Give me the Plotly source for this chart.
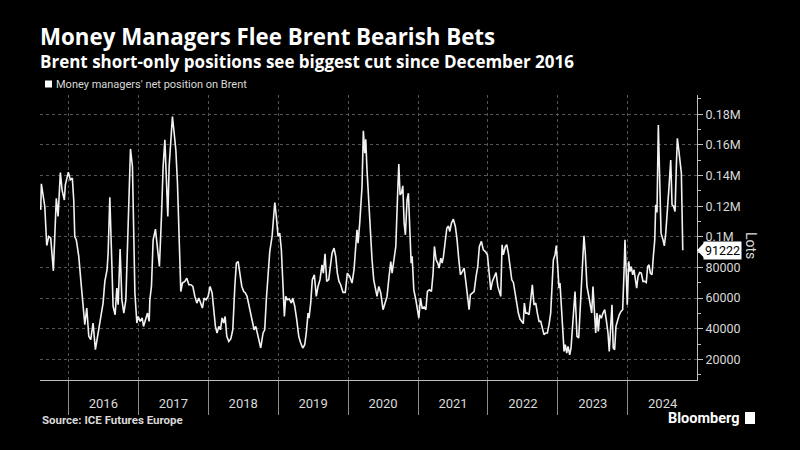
import datetime as dt
import plotly.graph_objects as go

# ---------------- data ----------------
# time as decimal years, value in lots
time_dec = [
    2015.605, 2015.614, 2015.663, 2015.691, 2015.720, 2015.748, 2015.786, 2015.828, 2015.853, 2015.886,
    2015.910, 2015.943, 2015.957, 2016.000, 2016.029, 2016.057, 2016.077, 2016.092, 2016.114, 2016.149,
    2016.186, 2016.235, 2016.263, 2016.292, 2016.320, 2016.353, 2016.386, 2016.415, 2016.453, 2016.496,
    2016.521, 2016.553, 2016.568, 2016.592, 2016.615, 2016.639, 2016.668, 2016.692, 2016.711, 2016.739,
    2016.764, 2016.792, 2016.821, 2016.854, 2016.887, 2016.915, 2016.950, 2016.978, 2016.997, 2017.025,
    2017.054, 2017.073, 2017.101, 2017.130, 2017.154, 2017.164, 2017.187, 2017.211, 2017.244, 2017.273,
    2017.301, 2017.330, 2017.354, 2017.379, 2017.401, 2017.421, 2017.440, 2017.464, 2017.487, 2017.512,
    2017.536, 2017.559, 2017.583, 2017.607, 2017.630, 2017.665, 2017.693, 2017.722, 2017.750, 2017.779,
    2017.808, 2017.836, 2017.865, 2017.893, 2017.916, 2017.941, 2017.969, 2017.998, 2018.026, 2018.055,
    2018.079, 2018.102, 2018.126, 2018.151, 2018.174, 2018.198, 2018.222, 2018.241, 2018.265, 2018.294,
    2018.322, 2018.351, 2018.380, 2018.402, 2018.427, 2018.451, 2018.480, 2018.508, 2018.531, 2018.555,
    2018.580, 2018.603, 2018.631, 2018.656, 2018.680, 2018.703, 2018.727, 2018.751, 2018.784, 2018.808,
    2018.831, 2018.856, 2018.880, 2018.913, 2018.952, 2018.974, 2018.999, 2019.023, 2019.046, 2019.070,
    2019.089, 2019.109, 2019.132, 2019.160, 2019.189, 2019.209, 2019.238, 2019.266, 2019.295, 2019.323,
    2019.352, 2019.380, 2019.403, 2019.428, 2019.442, 2019.466, 2019.489, 2019.518, 2019.546, 2019.571,
    2019.599, 2019.628, 2019.647, 2019.671, 2019.695, 2019.724, 2019.742, 2019.771, 2019.800, 2019.824,
    2019.847, 2019.871, 2019.895, 2019.928, 2019.961, 2019.990, 2020.024, 2020.057, 2020.086, 2020.110,
    2020.128, 2020.143, 2020.167, 2020.200, 2020.219, 2020.239, 2020.253, 2020.271, 2020.296, 2020.324,
    2020.343, 2020.367, 2020.390, 2020.414, 2020.439, 2020.467, 2020.500, 2020.525, 2020.557, 2020.586,
    2020.610, 2020.629, 2020.658, 2020.682, 2020.705, 2020.725, 2020.743, 2020.762, 2020.782, 2020.801,
    2020.819, 2020.843, 2020.862, 2020.882, 2020.901, 2020.915, 2020.939, 2020.968, 2020.991, 2021.011,
    2021.034, 2021.058, 2021.087, 2021.111, 2021.134, 2021.162, 2021.191, 2021.215, 2021.234, 2021.258,
    2021.282, 2021.301, 2021.325, 2021.344, 2021.363, 2021.387, 2021.411, 2021.434, 2021.454, 2021.477,
    2021.505, 2021.534, 2021.558, 2021.583, 2021.606, 2021.634, 2021.659, 2021.683, 2021.706, 2021.730,
    2021.749, 2021.777, 2021.802, 2021.830, 2021.854, 2021.877, 2021.906, 2021.934, 2021.963, 2021.992,
    2022.016, 2022.040, 2022.063, 2022.087, 2022.116, 2022.141, 2022.163, 2022.183, 2022.202, 2022.220,
    2022.249, 2022.269, 2022.292, 2022.316, 2022.341, 2022.364, 2022.388, 2022.412, 2022.435, 2022.459,
    2022.484, 2022.506, 2022.521, 2022.541, 2022.564, 2022.588, 2022.612, 2022.635, 2022.659, 2022.684,
    2022.707, 2022.731, 2022.755, 2022.778, 2022.802, 2022.827, 2022.850, 2022.874, 2022.898, 2022.917,
    2022.936, 2022.960, 2022.978, 2022.998, 2023.017, 2023.031, 2023.050, 2023.074, 2023.089, 2023.107,
    2023.127, 2023.146, 2023.170, 2023.189, 2023.207, 2023.227, 2023.246, 2023.260, 2023.274, 2023.299,
    2023.317, 2023.336, 2023.356, 2023.374, 2023.393, 2023.417, 2023.440, 2023.465, 2023.485, 2023.503,
    2023.522, 2023.542, 2023.560, 2023.579, 2023.599, 2023.622, 2023.646, 2023.671, 2023.693, 2023.718,
    2023.736, 2023.756, 2023.775, 2023.793, 2023.813, 2023.832, 2023.856, 2023.879, 2023.904, 2023.928,
    2023.947, 2023.961, 2023.979, 2023.994, 2024.014, 2024.032, 2024.051, 2024.071, 2024.090, 2024.108,
    2024.128, 2024.147, 2024.171, 2024.194, 2024.218, 2024.243, 2024.265, 2024.285, 2024.304, 2024.323,
    2024.347, 2024.366, 2024.386, 2024.400, 2024.418, 2024.437, 2024.457, 2024.476, 2024.504, 2024.523,
    2024.543, 2024.566, 2024.590, 2024.614, 2024.633, 2024.651, 2024.676, 2024.694, 2024.709, 2024.729,
    2024.747, 2024.766, 2024.786,
]

net_position = [
    117600, 134600, 119800, 94300, 100200, 99100, 77800, 125200, 113300, 142000,
    130600, 124000, 133900, 142200, 137200, 138300, 124000, 100200, 98000, 87200,
    67600, 42600, 53500, 35000, 32800, 43700, 26300, 35000, 45900, 56700,
    70900, 78500, 89300, 125900, 91500, 54600, 49100, 66500, 55600, 92000,
    58900, 50200, 58900, 113300, 157400, 145900, 63300, 43700, 48000, 44800,
    47000, 41500, 45900, 50200, 44800, 58900, 67600, 98000, 105000, 93700,
    80600, 113300, 145900, 163300, 135000, 113300, 145900, 165400, 178500, 167600,
    156700, 135000, 102400, 64300, 69800, 70900, 73000, 68700, 68700, 67600,
    61100, 56700, 60000, 55600, 53500, 60000, 58900, 61100, 67600, 63300,
    50200, 41500, 37200, 41500, 39300, 47000, 43700, 48000, 35000, 31700,
    33300, 39300, 67600, 82800, 83900, 76300, 67600, 64300, 63300, 61100,
    55600, 49100, 43700, 39300, 41500, 36100, 32000, 27400, 37200, 39300,
    58900, 76300, 90400, 100200, 122400, 113300, 100200, 102400, 91500, 67600,
    48000, 61100, 58900, 59400, 56700, 60000, 54600, 45900, 35000, 30600,
    27400, 29500, 37200, 50200, 46900, 56700, 72000, 75200, 61100, 67600,
    72000, 81700, 76300, 88900, 70900, 72000, 77400, 89300, 92600, 87200,
    76300, 70900, 68700, 63700, 63700, 76300, 74100, 69800, 78500, 91500,
    104600, 95900, 108900, 132800, 169300, 154600, 163700, 143700, 122000, 102400,
    85000, 71900, 66500, 61100, 67600, 63300, 52400, 55600, 61100, 74100,
    83900, 76300, 85000, 93700, 124100, 147600, 127400, 128500, 133300, 108900,
    101300, 124100, 128500, 102400, 82800, 87200, 65400, 58900, 52400, 46900,
    60000, 53500, 54100, 52400, 64300, 65400, 64300, 76300, 93700, 85000,
    82800, 79600, 86100, 82800, 87200, 95900, 105600, 107100, 103500, 108900,
    111500, 106700, 98000, 85000, 75200, 77400, 79600, 70900, 62200, 52400,
    62200, 63700, 64300, 74100, 80600, 93700, 97000, 91500, 90400, 88300,
    76300, 65400, 70900, 74100, 76700, 67600, 63300, 61100, 94800, 88300,
    93700, 94800, 89300, 80600, 71900, 70200, 63300, 55600, 50200, 46300,
    44800, 43300, 56700, 50200, 50200, 49100, 58900, 68700, 55600, 56700,
    50200, 44800, 44800, 40400, 36100, 37200, 37200, 42600, 50200, 67600,
    85000, 88300, 94300, 80600, 66500, 69800, 55600, 41500, 25200, 29600,
    24100, 28500, 23000, 27400, 39300, 54600, 64300, 50200, 35000, 33900,
    50200, 74100, 89300, 100600, 89300, 67600, 62000, 56700, 50200, 67600,
    54600, 37200, 50200, 38200, 49100, 46900, 50200, 52400, 45900, 37200,
    25200, 41500, 55600, 27400, 26300, 41500, 45900, 49100, 51300, 52400,
    76300, 98000, 76300, 55600, 83900, 77400, 80600, 75200, 78500, 70900,
    66500, 74100, 76700, 76300, 70900, 70900, 70200, 80600, 81700, 76300,
    75200, 87200, 98000, 120900, 115900, 173000, 141500, 102400, 98000, 94100,
    102400, 115400, 132800, 150200, 120900, 120200, 116500, 145900, 164300, 156700,
    150200, 141500, 91222,
]

y_tick_values = [20000, 40000, 60000, 80000, 100000, 120000, 140000, 160000, 180000]
y_tick_labels = ["20000", "40000", "60000", "80000", "0.1M", "0.12M", "0.14M", "0.16M", "0.18M"]
y_minor_values = [10000, 30000, 50000, 70000, 90000, 110000, 130000, 150000, 170000, 190000]

title = "Money Managers Flee Brent Bearish Bets"
subtitle = "Brent short-only positions see biggest cut since December 2016"
series_name = "Money managers' net position on Brent"
source = "Source: ICE Futures Europe"


def dec_to_date(t):
    y = int(t)
    start = dt.datetime(y, 1, 1)
    end = dt.datetime(y + 1, 1, 1)
    return start + (end - start) * (t - y)


dates = [dec_to_date(t) for t in time_dec]
last_value = net_position[-1]

# ---------------- layout geometry ----------------
W, H = 800, 450
ML, MR, MT, MB = 40, 103, 95, 70
PW, PH = W - ML - MR, H - MT - MB


def px(x):
    return (x - ML) / PW


def py(y):
    return (H - MB - y) / PH


FONT = "Roboto"
GRID = "#555555"
AXIS = "#bdbdbd"
TXT = "#d9d9d9"

fig = go.Figure()
fig.add_trace(go.Scatter(
    x=dates, y=net_position, mode="lines", name=series_name,
    line=dict(color="#f2f2f2", width=1.6), showlegend=False,
    hoverinfo="x+y",
))

fig.update_layout(
    width=W, height=H,
    paper_bgcolor="black", plot_bgcolor="black",
    margin=dict(l=ML, r=MR, t=MT, b=MB),
    font=dict(family=FONT, color=TXT),
)

fig.update_xaxes(
    type="date",
    range=[dt.datetime(2015, 8, 6), dt.datetime(2024, 12, 28)],
    tick0="2016-01-01", dtick="M12", tickformat="%Y",
    ticklabelmode="period",
    ticks="outside", ticklen=34, tickcolor="#8c8c8c", tickwidth=1,
    ticklabelstandoff=-23,
    tickfont=dict(family=FONT, size=13, color=TXT),
    showgrid=True, gridcolor=GRID, griddash="dot", gridwidth=1,
    showline=True, linecolor=AXIS, linewidth=1,
    zeroline=False,
)

fig.update_yaxes(
    side="right",
    range=[6500, 192600],
    tickmode="array", tickvals=y_tick_values, ticktext=y_tick_labels,
    ticks="outside", ticklen=5, tickcolor=AXIS, tickwidth=1,
    tickfont=dict(family=FONT, size=12.5, color=TXT),
    minor=dict(tickmode="array", tickvals=y_minor_values, ticks="outside",
               ticklen=3, tickcolor=AXIS, showgrid=False),
    showgrid=True, gridcolor=GRID, griddash="dot", gridwidth=1,
    showline=True, linecolor=AXIS, linewidth=1,
    zeroline=False,
)

annotations = [
    dict(text=f"<b>{title}</b>", x=px(38), y=py(36.5), xref="paper", yref="paper",
         xanchor="left", yanchor="middle", showarrow=False,
         font=dict(family="Open Sans", size=22.3, color="white")),
    dict(text=f"<b>{subtitle}</b>", x=px(38), y=py(61.5), xref="paper", yref="paper",
         xanchor="left", yanchor="middle", showarrow=False,
         font=dict(family="Open Sans", size=17, color="white")),
    dict(text=series_name, x=px(54), y=py(84), xref="paper", yref="paper",
         xanchor="left", yanchor="middle", showarrow=False,
         font=dict(family=FONT, size=11, color=TXT)),
    dict(text="Lots", x=px(751), y=py(245), xref="paper", yref="paper",
         xanchor="center", yanchor="middle", showarrow=False, textangle=90,
         font=dict(family=FONT, size=14, color=TXT)),
    dict(text=f"{last_value}", x=1, y=last_value, xref="paper", yref="y",
         xanchor="left", yanchor="middle", xshift=6, showarrow=False,
         bgcolor="white", borderpad=1,
         font=dict(family=FONT, size=12.5, color="black")),
    dict(text=f"<b>{source}</b>", x=px(40), y=py(420), xref="paper", yref="paper",
         xanchor="left", yanchor="middle", showarrow=False,
         font=dict(family=FONT, size=11.5, color=TXT)),
    dict(text="<b>Bloomberg</b>", x=px(741), y=py(418), xref="paper", yref="paper",
         xanchor="right", yanchor="middle", showarrow=False,
         font=dict(family=FONT, size=14.5, color="white")),
]
fig.update_layout(annotations=annotations)

shapes = [
    # legend swatch
    dict(type="rect", xref="paper", yref="paper",
         x0=px(45), x1=px(52), y0=py(87.5), y1=py(80.5),
         fillcolor="white", line=dict(width=0)),
    # pointer of last-value label
    dict(type="path", xref="paper", yref="y", xsizemode="pixel", ysizemode="pixel",
         xanchor=1, yanchor=last_value,
         path="M 0,0 L 7,7.5 L 7,-7.5 Z", fillcolor="white", line=dict(width=0)),
    # Bloomberg mark
    dict(type="rect", xref="paper", yref="paper",
         x0=px(745), x1=px(755), y0=py(424), y1=py(412),
         fillcolor="white", line=dict(width=0)),
]
fig.update_layout(shapes=shapes)

fig.write_html(
    "out.html",
    config={"displayModeBar": False},
    post_script="document.body.style.margin='0';document.body.style.padding='0';"
                "document.body.style.background='black';",
)
